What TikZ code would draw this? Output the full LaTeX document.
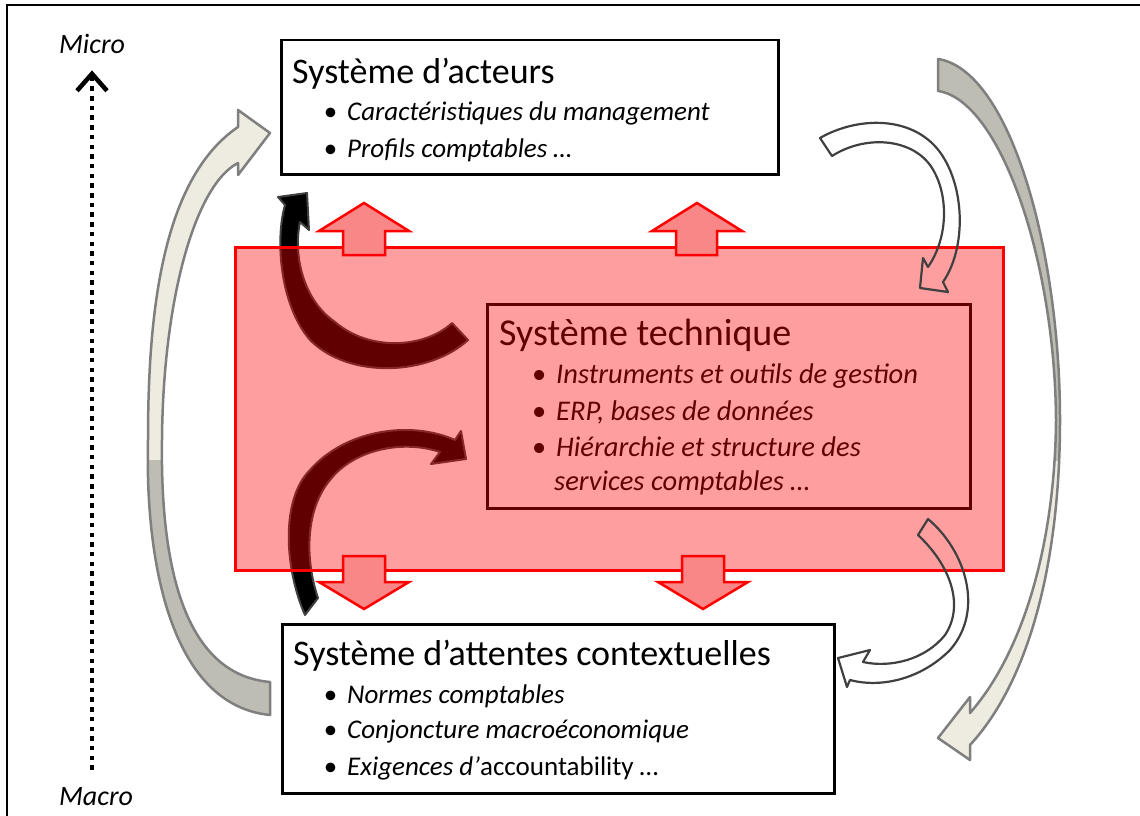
\documentclass[tikz,border=0pt]{standalone}
\usepackage{fontspec}
\setmainfont{Carlito}
\usepackage{tikz}
\usetikzlibrary{arrows.meta}
\definecolor{coquille}{RGB}{238,236,225}
\definecolor{grisfonce}{RGB}{190,189,179}
\definecolor{contour}{RGB}{127,127,127}
\definecolor{anthracite}{RGB}{64,64,64}
\definecolor{rose}{RGB}{250,135,135}

\begin{document}
\begin{tikzpicture}[x=1pt, y=-1pt,
  boite/.style={draw, line width=2.5pt, anchor=north west, inner sep=0pt},
  titre/.style={anchor=base west, inner sep=0pt, font=\fontsize{36}{40}\selectfont},
  puce/.style={anchor=base west, inner sep=0pt, font=\fontsize{27}{30}\selectfont\itshape,
    execute at begin node={\llap{\upshape •\hspace{10pt}}}},
  ruban/.style={draw=contour, line width=2.5pt, line join=round},
  noire/.style={fill=black, draw=anthracite, line width=2pt, line join=round},
  contourf/.style={draw=anthracite, line width=2.2pt, line join=round},
  flecherouge/.style={draw=red, fill=rose, line width=2.5pt},
  echelle/.style={anchor=base, inner sep=0pt, font=\fontsize{28}{30}\selectfont\itshape}]
\useasboundingbox (0,0) rectangle (1140,816);
% cadre
\draw[line width=2.5pt] (7,830) -- (7,5) -- (1150,5);
% grandes fleches grises
\path[save path=\rubanG] (270,715) .. controls (170,705) and (145,560) .. (148,440)
  .. controls (148,320) and (160,180) .. (238,127) -- (238,110) -- (270,133) -- (238,175)
  -- (238,163) .. controls (195,185) and (163,300) .. (162,440)
  .. controls (160,580) and (190,675) .. (270,682) -- cycle;
\path[save path=\rubanD] (938,59) .. controls (1010,70) and (1060,250) .. (1060,420)
  .. controls (1060,560) and (1030,680) .. (970,745) -- (970,760) -- (938,738) -- (970,697)
  -- (970,713) .. controls (1025,650) and (1055,540) .. (1056,420)
  .. controls (1055,260) and (1000,100) .. (938,91) -- cycle;
\fill[coquille, use path=\rubanG];
\fill[coquille, use path=\rubanD];
\begin{scope}
  \clip (0,460) rectangle (300,816);
  \fill[grisfonce, use path=\rubanG];
\end{scope}
\begin{scope}
  \clip (900,0) rectangle (1140,460);
  \fill[grisfonce, use path=\rubanD];
\end{scope}
\draw[ruban, use path=\rubanG];
\draw[ruban, use path=\rubanD];
% systeme d'acteurs
\node[boite, minimum width=497pt, minimum height=134pt] (acteurs) at (280,39) {};
\node[titre] (tacteurs) at (292,83) {Système d’acteurs};
\node[puce] (a1) at (347,120) {Caractéristiques du management};
\node[puce] (a2) at (347,157) {Profils comptables …};
% systeme d'attentes contextuelles
\node[boite, minimum width=552pt, minimum height=169pt] (attentes) at (281,623) {};
\node[titre] (tattentes) at (293,665) {Système d’attentes contextuelles};
\node[puce] (c1) at (347,703) {Normes comptables};
\node[puce] (c2) at (347,738) {Conjoncture macroéconomique};
\node[puce] (c3) at (347,775) {Exigences d’{\upshape accountability …}};
% fleches noires
\draw[noire] (468,340) .. controls (430,375) and (350,380) .. (310,340)
  .. controls (280,305) and (275,240) .. (285,205) -- (278,197) -- (307,193) -- (309,230)
  -- (300,222) .. controls (293,255) and (303,300) .. (335,322)
  .. controls (370,352) and (425,348) .. (452,323) -- cycle;
\draw[noire] (305,615) .. controls (285,570) and (280,500) .. (310,470)
  .. controls (345,430) and (410,420) .. (455,440) -- (461,431) -- (466,459) -- (431,464)
  -- (440,452) .. controls (405,440) and (355,448) .. (330,480)
  .. controls (305,510) and (305,560) .. (318,598) -- cycle;
% systeme technique
\node[boite, minimum width=483pt, minimum height=204pt] (technique) at (486,303) {};
\node[titre, font=\fontsize{38}{40}\selectfont] (ttechnique) at (499,345) {Système technique};
\node[puce, font=\fontsize{28.5}{30}\selectfont\itshape] (t1) at (556,383) {Instruments et outils de gestion};
\node[puce, font=\fontsize{28.5}{30}\selectfont\itshape] (t2) at (556,420) {ERP, bases de données};
\node[puce, font=\fontsize{28.5}{30}\selectfont\itshape] (t3) at (556,456) {Hiérarchie et structure des};
\node[anchor=base west, inner sep=0pt, font=\fontsize{28.5}{30}\selectfont\itshape] (t4) at (554,490) {services comptables …};
\node[boite, draw=red, fill=red, fill opacity=0.38, minimum width=768pt, minimum height=323pt] (rouge) at (234,246) {};
% fleches en contour
\draw[contourf] (820,138) .. controls (860,115) and (920,115) .. (945,160)
  .. controls (965,195) and (965,250) .. (943,282) -- (948,292) -- (920,288) -- (923,258)
  -- (928,267) .. controls (950,235) and (948,190) .. (930,165)
  .. controls (910,138) and (865,135) .. (832,156) -- cycle;
\draw[contourf] (928,519) .. controls (965,550) and (985,610) .. (950,650)
  .. controls (920,680) and (880,688) .. (850,680) -- (847,687) -- (838,658) -- (870,650)
  -- (863,662) .. controls (890,668) and (925,660) .. (945,635)
  .. controls (965,605) and (950,565) .. (918,535) -- cycle;
% fleches rouges
\draw[flecherouge] (343,255) -- (343,231) -- (319,231) -- (364,203) -- (409,231) -- (385,231) -- (385,255) -- cycle;
\draw[flecherouge] (676,255) -- (676,231) -- (652,231) -- (697,203) -- (742,231) -- (717,231) -- (717,255) -- cycle;
\draw[flecherouge] (343,556) -- (343,582) -- (319,582) -- (364,609) -- (409,582) -- (385,582) -- (385,556) -- cycle;
\draw[flecherouge] (682,556) -- (682,582) -- (658,582) -- (703,609) -- (748,582) -- (724,582) -- (724,556) -- cycle;
% axe micro / macro
\node[echelle] (micro) at (92,53) {Micro};
\node[echelle] (macro) at (96,805) {Macro};
\draw[line width=4.5pt, dash pattern=on 4.5pt off 5.2pt, shorten <=17pt, shorten >=17pt,
  -{Straight Barb[length=17pt, width=30pt, line width=4.5pt]}] (macro.north -| micro.south) -- (micro.south);
\end{tikzpicture}
\end{document}
